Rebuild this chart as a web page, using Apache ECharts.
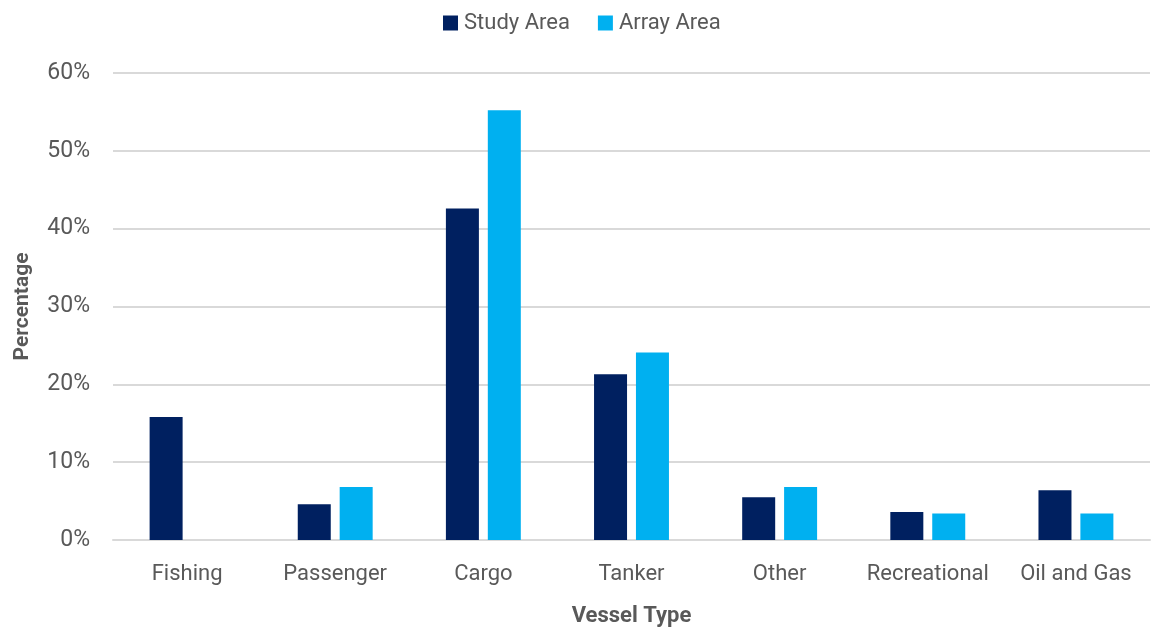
<!DOCTYPE html>
<html>
<head>
<meta charset="utf-8">
<script src="https://cdn.jsdelivr.net/npm/echarts@6/dist/echarts.min.js"></script>
<style>
  html, body { margin: 0; padding: 0; background: #fff; }
  #chart { width: 1156px; height: 627px; }
</style>
</head>
<body>
<div id="chart"></div>
<script>
// vessel types on the x axis
const categories = ['Fishing', 'Passenger', 'Cargo', 'Tanker', 'Other', 'Recreational', 'Oil and Gas'];
// percentages
const studyArea = [15.8, 4.6, 42.6, 21.3, 5.5, 3.6, 6.4];
const arrayArea = [0, 6.8, 55.2, 24.1, 6.8, 3.4, 3.4];
const yTicks = [0, 10, 20, 30, 40, 50, 60];

const textColor = '#595959';
const fontFam = 'Roboto, "Open Sans", sans-serif';

let myChart = echarts.init(document.getElementById('chart'));

myChart.setOption({
  color: ['#002060', '#00B0F0'],
  animation: false,
  legend: {
    top: 7,
    left: 438,
    itemWidth: 15,
    itemHeight: 15,
    itemGap: 28,
    itemStyle: { borderWidth: 0 },
    icon: 'rect',
    textStyle: {
      color: textColor,
      fontSize: 22,
      fontFamily: fontFam,
      padding: [0, 0, 0, 1]
    },
    data: ['Study Area', 'Array Area']
  },
  grid: {
    left: 113,
    right: 6,
    top: 73,
    bottom: 87,
    containLabel: false,
    outerBoundsMode: 'none'
  },
  xAxis: {
    type: 'category',
    data: categories,
    name: 'Vessel Type',
    nameLocation: 'middle',
    nameGap: 65,
    nameTextStyle: {
      color: textColor,
      fontSize: 22,
      fontWeight: 'bold',
      fontFamily: fontFam
    },
    axisTick: { show: false },
    axisLine: {
      show: true,
      lineStyle: { color: '#d9d9d9', width: 2 }
    },
    axisLabel: {
      interval: 0,
      margin: 23,
      color: textColor,
      fontSize: 22,
      fontFamily: fontFam
    }
  },
  yAxis: {
    type: 'value',
    min: yTicks[0],
    max: yTicks[yTicks.length - 1],
    interval: 10,
    name: 'Percentage',
    nameLocation: 'middle',
    nameGap: 80,
    nameRotate: 90,
    nameTextStyle: {
      color: textColor,
      fontSize: 21,
      fontWeight: 'bold',
      fontFamily: fontFam
    },
    axisLine: { show: false },
    axisTick: { show: false },
    splitLine: {
      lineStyle: { color: '#d9d9d9', width: 2 }
    },
    axisLabel: {
      margin: 23,
      formatter: '{value}%',
      color: textColor,
      fontSize: 23,
      fontFamily: fontFam
    }
  },
  series: [
    {
      name: 'Study Area',
      type: 'bar',
      data: studyArea,
      barWidth: 33,
      barGap: '27%'
    },
    {
      name: 'Array Area',
      type: 'bar',
      data: arrayArea,
      barWidth: 33,
      barGap: '27%'
    }
  ]
});
</script>
</body>
</html>
